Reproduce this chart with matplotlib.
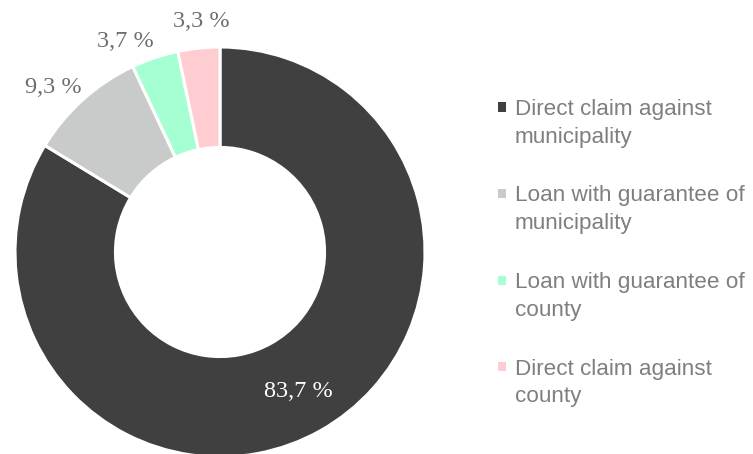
import numpy as np
import matplotlib
matplotlib.use("Agg")
import matplotlib.pyplot as plt
from matplotlib.patches import Rectangle

categories = ["Direct claim against\nmunicipality",
              "Loan with guarantee of\nmunicipality",
              "Loan with guarantee of\ncounty",
              "Direct claim against\ncounty"]
values = [83.7, 9.3, 3.7, 3.3]
labels = ["83,7 %", "9,3 %", "3,7 %", "3,3 %"]
colors = ["#404040", "#C9CACA", "#A5FFD2", "#FFCCD2"]

W, H = 753, 454
fig = plt.figure(figsize=(W / 100, H / 100), dpi=100)

cx, cy, R = 220, 252, 205
ax = fig.add_axes([(cx - R) / W, (H - cy - R) / H, 2 * R / W, 2 * R / H])
wedges, _ = ax.pie(values, colors=colors, startangle=90, counterclock=False,
                   radius=1.0,
                   wedgeprops=dict(width=0.49, edgecolor="white", linewidth=2.2))
ax.set_xlim(-1, 1)
ax.set_ylim(-1, 1)
ax.set_aspect("equal")
ax.axis("off")

# small nudges (points) so crowded outside labels do not collide
label_nudge = [(0, 0), (-2, 2), (-11.5, 3), (5, 9.5)]

serif = ["Liberation Serif", "DejaVu Serif"]
for i, (w, lab) in enumerate(zip(wedges, labels)):
    ang = np.deg2rad((w.theta1 + w.theta2) / 2)
    c, s = np.cos(ang), np.sin(ang)
    if i == 0:
        ax.text(0.78 * c, 0.78 * s, lab, ha="center", va="center",
                color="white", fontsize=17.5, family=serif)
    else:
        nx, ny = label_nudge[i]
        ax.annotate(lab, xy=(1.05 * c, 1.05 * s),
                    xytext=(22 * c + nx, 2 * s + ny),
                    textcoords="offset points", ha="center", va="center",
                    color="#6E6E6E", fontsize=17.5, family=serif,
                    annotation_clip=False)

# legend drawn manually so the marker aligns with the first text line
y0, step = 107, 86.5
for i, (cat, col) in enumerate(zip(categories, colors)):
    yc = y0 + i * step
    fig.patches.append(Rectangle((498 / W, (H - yc - 4.5) / H), 8 / W, 9 / H,
                                 transform=fig.transFigure, facecolor=col,
                                 edgecolor="none"))
    fig.text(515 / W, (H - yc + 8) / H, cat, ha="left", va="top",
             fontsize=16.2, color="#7F7F7F", family=["Liberation Sans"],
             linespacing=1.42)

fig.savefig("out.png", dpi=100, facecolor="white")
